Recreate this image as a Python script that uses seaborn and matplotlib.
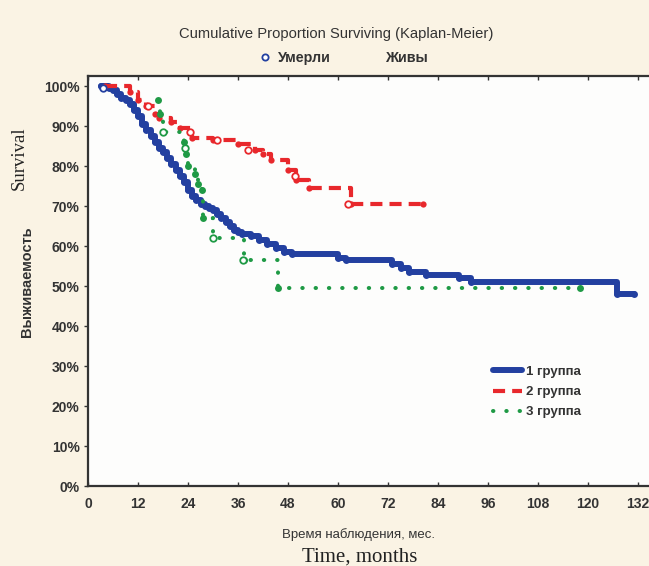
import matplotlib
matplotlib.use("Agg")
import matplotlib.pyplot as plt
from matplotlib.lines import Line2D
import seaborn as sns
import pandas as pd

# ---- data ----
g1_t = [3, 5, 6, 7, 8, 9, 10, 11, 12, 13, 14, 15, 16, 17, 18, 19, 20, 21, 22, 23,
        24, 25, 26, 27, 28, 29, 30, 31, 32, 33, 34, 35, 36, 37, 39, 41, 43, 45, 47,
        49, 60, 62, 73, 75, 77, 81, 89, 92, 127, 131]
g1_s = [100, 99.5, 99, 98, 97, 96.5, 95.5, 94, 92.5, 90.5, 89, 87.5, 86, 84.5, 83.5,
        82, 80.5, 79, 77.5, 76, 74, 72.5, 71.5, 70.5, 70, 69.5, 69, 68, 67, 66, 65,
        64, 63.5, 63, 62.5, 61.5, 60.5, 59.5, 58.5, 58, 57, 56.5, 55.5, 54.5, 53.5,
        52.7, 52, 51, 48, 48]

g2_t = [4, 10, 12, 14, 16, 17, 20, 22, 25, 30, 36, 40, 42, 44, 48, 50, 53, 63, 80.5]
g2_s = [100, 98.5, 96.5, 95, 93, 92, 91, 89.5, 87, 86.5, 85.5, 84, 83, 81.5, 79,
        76.5, 74.5, 70.5, 70.5]

g3_t = [16.7, 17.3, 18, 23, 23.5, 24, 25.7, 26.5, 27.4, 27.7, 30, 37.5, 45.5, 118]
g3_s = [96.5, 93, 88.5, 86, 83, 80, 78, 75.5, 74, 67, 62, 56.5, 49.5, 49.5]

# censored observations (hollow circles)
c2_t = [14.4, 24.5, 31, 38.5, 49.7, 62.4]
c2_s = [95, 88.5, 86.5, 84, 77.5, 70.5]
c3_t = [18, 23.3, 30, 37.2]
c3_s = [88.5, 84.5, 62, 56.5]
c1_t = [3.5]
c1_s = [99.5]

group_labels = ["1 группа", "2 группа", "3 группа"]
x_ticks = list(range(0, 133, 12))
y_ticks = list(range(0, 101, 10))

# ---- style ----
sns.set_theme(style="white")
plt.rcParams["font.family"] = ["Liberation Sans", "DejaVu Sans"]

BLUE = "#2340a0"
RED = "#e8282c"
GREEN = "#1f9a45"
BG = "#faf3e4"
TXT = "#333333"
SERIF = ["Liberation Serif", "DejaVu Serif"]

fig = plt.figure(figsize=(6.49, 5.66), dpi=100, facecolor=BG)
W, H = 649, 566
ax_l, ax_r = 88, 650.5
ax_t, ax_b = 76, 486
ax = fig.add_axes([ax_l / W, 1 - ax_b / H, (ax_r - ax_l) / W, (ax_b - ax_t) / H])
ax.set_facecolor("#fdfdfc")

df1 = pd.DataFrame({"t": g1_t, "s": g1_s})
df2 = pd.DataFrame({"t": g2_t, "s": g2_s})
df3 = pd.DataFrame({"t": g3_t, "s": g3_s})

sns.lineplot(data=df1, x="t", y="s", ax=ax, estimator=None, sort=False,
             drawstyle="steps-post", color=BLUE, lw=4.3, marker="o", markersize=5,
             markeredgewidth=0, label=group_labels[0], zorder=3)
sns.lineplot(data=df2, x="t", y="s", ax=ax, estimator=None, sort=False,
             drawstyle="steps-post", color=RED, lw=3.0, linestyle=(0, (2.9, 1.7)),
             marker="o", markersize=4.5, markeredgewidth=0, label=group_labels[1], zorder=4)
sns.lineplot(data=df3, x="t", y="s", ax=ax, estimator=None, sort=False,
             drawstyle="steps-post", color=GREEN, lw=2.9, linestyle=(0, (0.1, 3.2)),
             dash_capstyle="round", marker="o", markersize=5, markeredgewidth=0,
             label=group_labels[2], zorder=5)

for ct, cs, col in [(c1_t, c1_s, BLUE), (c2_t, c2_s, RED), (c3_t, c3_s, GREEN)]:
    sns.scatterplot(x=ct, y=cs, ax=ax, marker="o", s=22, facecolor="white",
                    edgecolor=col, linewidth=1.3, zorder=6, legend=False)

ax.set_xlim(0, 135)
ax.set_ylim(0, 102.5)
ax.set_xticks(x_ticks)
ax.set_xticklabels([str(v) for v in x_ticks])
ax.set_yticks(y_ticks)
ax.set_yticklabels([f"{v}%" for v in y_ticks])
ax.set_xlabel("")
ax.set_ylabel("")
ax.tick_params(axis="x", which="both", direction="in", top=True, bottom=True,
               length=3, width=1, color="#333", labelsize=10, labelcolor=TXT, pad=8)
ax.tick_params(axis="y", which="both", direction="out", left=True, length=3,
               width=1, color="#333", labelsize=10, labelcolor=TXT, pad=3)
for lab in ax.get_xticklabels() + ax.get_yticklabels():
    lab.set_fontweight("bold")
for side in ["left", "bottom", "top"]:
    ax.spines[side].set_color("#333333")
    ax.spines[side].set_linewidth(1.6)
ax.spines["right"].set_visible(False)

leg = ax.legend(loc="center left", bbox_to_anchor=(488 / W, 1 - 392 / H),
                bbox_transform=fig.transFigure, frameon=False,
                prop={"size": 9.5, "weight": "bold"},
                handlelength=2.2, handletextpad=0.3, labelspacing=0.6,
                borderaxespad=0)
for txt in leg.get_texts():
    txt.set_color(TXT)
for h in leg.legend_handles:
    h.set_marker("")

# top legend
h_dead = Line2D([], [], marker="o", markersize=4.5, markerfacecolor="white",
                markeredgecolor=BLUE, markeredgewidth=1.3, linestyle="none")
h_alive = Line2D([], [], linestyle="none")
fig.legend([h_dead, h_alive], ["Умерли", "Живы"], loc="center",
           bbox_to_anchor=(343 / W, 1 - 58 / H), ncol=2, frameon=False,
           prop={"size": 10.3, "weight": "bold"}, handlelength=1.0,
           handletextpad=0.4, columnspacing=2.4, labelcolor=TXT)

fig.text(336 / W, 1 - 34 / H, "Cumulative Proportion Surviving (Kaplan-Meier)",
         ha="center", va="center", fontsize=10.6, color=TXT)
fig.text(358 / W, 1 - 535 / H, "Время наблюдения, мес.", ha="center",
         va="center", fontsize=9.5, color=TXT)
fig.text(360 / W, 1 - 557 / H, "Time, months", ha="center", va="center",
         fontsize=15, color="#222", family=SERIF)
fig.text(27 / W, 1 - 282 / H, "Выживаемость", ha="center", va="center",
         rotation=90, fontsize=10.5, fontweight="bold", color=TXT)
fig.text(19 / W, 1 - 158 / H, "Survival", ha="center", va="center",
         rotation=90, fontsize=13.5, color="#222", family=SERIF)

fig.savefig("out.png", dpi=100, facecolor=BG)
